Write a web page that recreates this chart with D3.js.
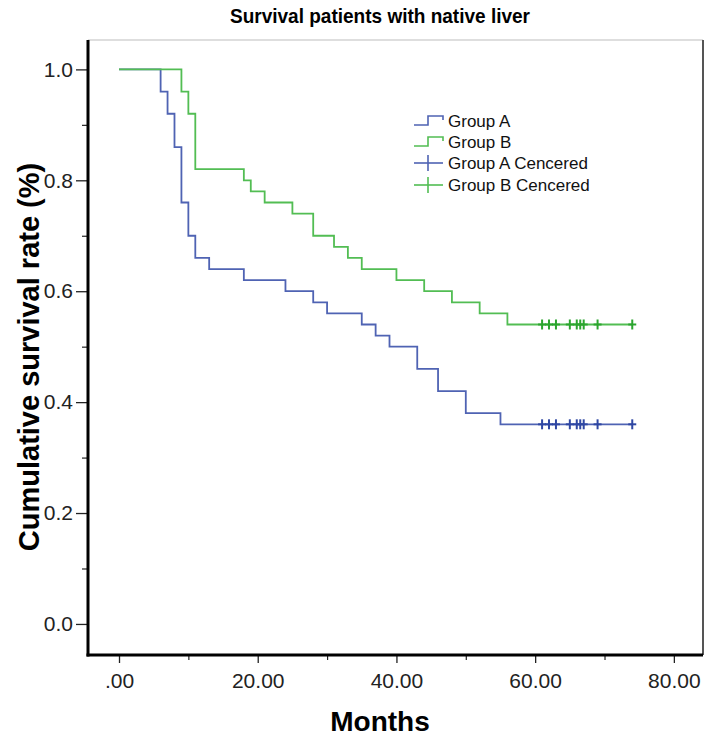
<!DOCTYPE html>
<html>
<head>
<meta charset="utf-8">
<script src="https://cdnjs.cloudflare.com/ajax/libs/d3/7.8.5/d3.min.js"></script>
<style>
  html, body { margin: 0; padding: 0; background: #fff; }
  svg { display: block; font-family: "Liberation Sans", Arial, sans-serif; }
</style>
</head>
<body>
<svg id="chart" width="709" height="740"></svg>
<script>
// ---- data ----
const chartTitle = "Survival patients with native liver";
const xLabel = "Months";
const yLabel = "Cumulative survival rate (%)";
const seriesNames = ["Group A", "Group B"];
const legendLabels = ["Group A", "Group B", "Group A Cencered", "Group B Cencered"];

const groupATimes = [0, 6, 7, 8, 9, 10, 11, 13, 18, 24, 28, 30, 35, 37, 39, 43, 46, 50, 55];
const groupASurv  = [1.00, 0.96, 0.92, 0.86, 0.76, 0.70, 0.66, 0.64, 0.62, 0.60, 0.58, 0.56, 0.54, 0.52, 0.50, 0.46, 0.42, 0.38, 0.36];
const groupAEnd = 74;
const groupACensored = [61, 62, 63, 65, 66, 66.5, 67, 69, 74];

const groupBTimes = [0, 9, 10, 11, 18, 19, 21, 25, 28, 31, 33, 35, 40, 44, 48, 52, 56];
const groupBSurv  = [1.00, 0.96, 0.92, 0.82, 0.80, 0.78, 0.76, 0.74, 0.70, 0.68, 0.66, 0.64, 0.62, 0.60, 0.58, 0.56, 0.54];
const groupBEnd = 74;
const groupBCensored = [61, 62, 63, 65, 66, 66.5, 67, 69, 74];

const xTickValues = [0, 20, 40, 60, 80];
const xMinorTicks = [10, 30, 50, 70];
const yTickValues = [0, 0.2, 0.4, 0.6, 0.8, 1.0];
const yMinorTicks = [0.1, 0.3, 0.5, 0.7, 0.9];

// ---- layout ----
const plot = { left: 88, right: 703, top: 40, bottom: 655 };
const colors = { A: "#4f63b3", B: "#52bd53", Adark: "#2f47a3", Bdark: "#2ca52f" };

const svg = d3.select("#chart");
const x = d3.scaleLinear().domain([-4.47, 84.2]).range([plot.left, plot.right]);
const y = d3.scaleLinear().domain([-0.056, 1.053]).range([plot.bottom, plot.top]);

// frame (top + right thin)
svg.append("line").attr("x1", plot.left).attr("x2", plot.right).attr("y1", plot.top).attr("y2", plot.top)
  .attr("stroke", "#bdbdbd").attr("stroke-width", 1.2);
svg.append("line").attr("x1", plot.right).attr("x2", plot.right).attr("y1", plot.top).attr("y2", plot.bottom)
  .attr("stroke", "#555").attr("stroke-width", 2);

// axes
const xAxis = d3.axisBottom(x).tickValues(xTickValues).tickSize(8).tickPadding(10)
  .tickFormat(d => d === 0 ? ".00" : d3.format(".2f")(d));
const gx = svg.append("g").attr("transform", `translate(0,${plot.bottom})`).call(xAxis);
gx.select(".domain").remove();
gx.selectAll(".tick line").attr("stroke", "#222").attr("stroke-width", 1.3);
gx.selectAll(".tick text").attr("font-size", 21).attr("fill", "#222")
  .attr("font-family", "'Liberation Sans', Arial, sans-serif");

const xMinor = d3.axisBottom(x).tickValues(xMinorTicks).tickSize(5).tickFormat("");
const gxm = svg.append("g").attr("transform", `translate(0,${plot.bottom})`).call(xMinor);
gxm.select(".domain").remove();
gxm.selectAll(".tick line").attr("stroke", "#222").attr("stroke-width", 1.2);

const yAxis = d3.axisLeft(y).tickValues(yTickValues).tickSize(12).tickPadding(3)
  .tickFormat(d3.format(".1f"));
const gy = svg.append("g").attr("transform", `translate(${plot.left},0)`).call(yAxis);
gy.select(".domain").remove();
gy.selectAll(".tick line").attr("stroke", "#222").attr("stroke-width", 1.3);
gy.selectAll(".tick text").attr("font-size", 21).attr("fill", "#222")
  .attr("font-family", "'Liberation Sans', Arial, sans-serif");

const yMinor = d3.axisLeft(y).tickValues(yMinorTicks).tickSize(6).tickFormat("");
const gym = svg.append("g").attr("transform", `translate(${plot.left},0)`).call(yMinor);
gym.select(".domain").remove();
gym.selectAll(".tick line").attr("stroke", "#222").attr("stroke-width", 1.2);

// thick left/bottom axis lines
svg.append("line").attr("x1", plot.left).attr("x2", plot.left).attr("y1", plot.top).attr("y2", plot.bottom + 1.5)
  .attr("stroke", "#000").attr("stroke-width", 3);
svg.append("line").attr("x1", plot.left - 1.5).attr("x2", plot.right).attr("y1", plot.bottom).attr("y2", plot.bottom)
  .attr("stroke", "#000").attr("stroke-width", 3);

// curves
function stepData(times, surv, end) {
  const pts = times.map((t, i) => [t, surv[i]]);
  pts.push([end, surv[surv.length - 1]]);
  return pts;
}
const line = d3.line().x(d => x(d[0])).y(d => y(d[1])).curve(d3.curveStepAfter);

svg.append("path").datum(stepData(groupATimes, groupASurv, groupAEnd))
  .attr("d", line).attr("fill", "none").attr("stroke", colors.A).attr("stroke-width", 1.8);
svg.append("path").datum(stepData(groupBTimes, groupBSurv, groupBEnd))
  .attr("d", line).attr("fill", "none").attr("stroke", colors.B).attr("stroke-width", 1.8);

// censored crosses
function crosses(times, level, col) {
  const g = svg.append("g").attr("stroke", col).attr("stroke-width", 2);
  times.forEach(t => {
    g.append("line").attr("x1", x(t)).attr("x2", x(t)).attr("y1", y(level) - 5).attr("y2", y(level) + 5);
    g.append("line").attr("x1", x(t) - 4).attr("x2", x(t) + 4).attr("y1", y(level)).attr("y2", y(level));
  });
}
crosses(groupACensored, groupASurv[groupASurv.length - 1], colors.Adark);
crosses(groupBCensored, groupBSurv[groupBSurv.length - 1], colors.Bdark);

// legend
const legX = 414, legRows = [121, 142, 163, 185];
const legCols = [colors.A, colors.B, colors.A, colors.B];
legendLabels.forEach((lab, i) => {
  const cy = legRows[i];
  if (i < 2) {
    svg.append("path")
      .attr("d", `M${legX},${cy + 4}H${legX + 14}V${cy - 5}H${legX + 29}V${cy - 1}`)
      .attr("fill", "none").attr("stroke", legCols[i]).attr("stroke-width", 1.6);
  } else {
    svg.append("line").attr("x1", legX).attr("x2", legX + 29).attr("y1", cy).attr("y2", cy)
      .attr("stroke", legCols[i]).attr("stroke-width", 1.6);
    svg.append("line").attr("x1", legX + 14).attr("x2", legX + 14).attr("y1", cy - 8).attr("y2", cy + 8)
      .attr("stroke", legCols[i]).attr("stroke-width", 1.6);
  }
  svg.append("text").attr("x", legX + 34).attr("y", cy).attr("dy", "0.36em")
    .attr("font-size", 17).attr("fill", "#111").text(lab);
});

// titles
svg.append("text").attr("x", 380).attr("y", 23).attr("text-anchor", "middle")
  .attr("font-size", 21).attr("font-weight", "bold").attr("fill", "#000")
  .attr("textLength", 300).attr("lengthAdjust", "spacingAndGlyphs").text(chartTitle);
svg.append("text").attr("x", 380).attr("y", 731).attr("text-anchor", "middle")
  .attr("font-size", 28).attr("font-weight", "bold").attr("fill", "#000").text(xLabel);
svg.append("text").attr("transform", `translate(39,357) rotate(-90)`).attr("text-anchor", "middle")
  .attr("font-size", 29).attr("font-weight", "bold").attr("fill", "#000").text(yLabel);
</script>
</body>
</html>
